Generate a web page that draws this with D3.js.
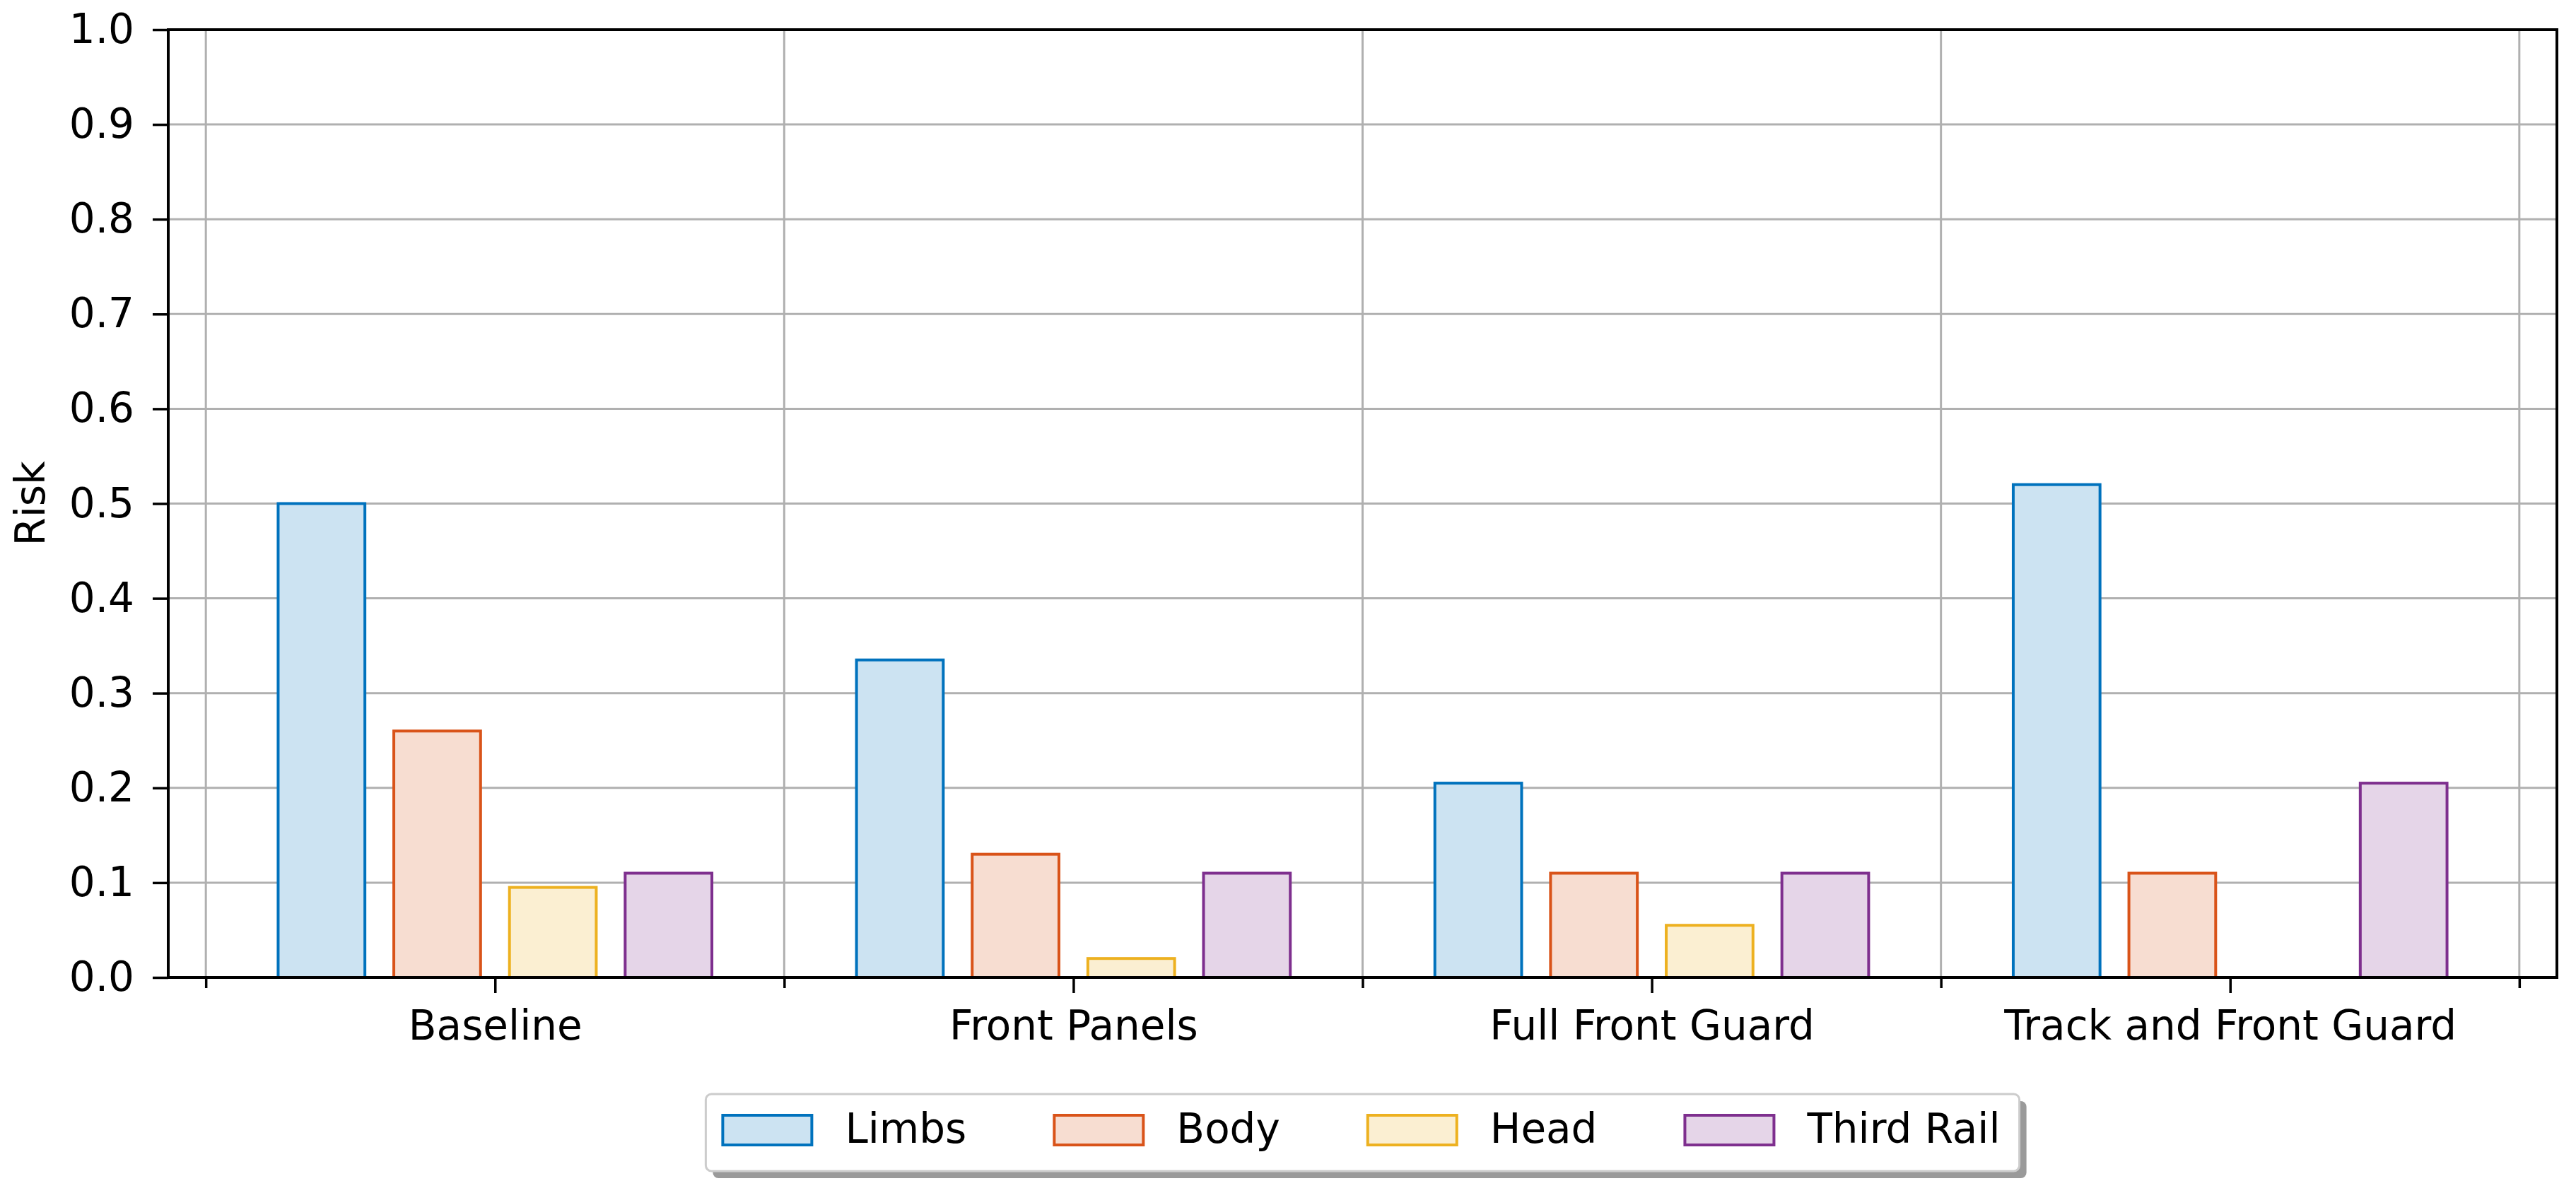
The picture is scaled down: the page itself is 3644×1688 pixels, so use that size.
<!DOCTYPE html>
<html>
<head>
  <meta charset="UTF-8">
  <style>
    body { margin: 0; background: #fff; }
    svg { display: block; }
    text { font-family: "DejaVu Sans", sans-serif; fill: #000; }
    .grid line { stroke: #b0b0b0; stroke-width: 3px; }
    .axis path, .axis line { stroke: #000; }
    .axis text { font-size: 58px; }
  </style>
</head>
<body>
  <svg width="3644" height="1688"></svg>
  <script src="https://d3js.org/d3.v7.min.js"></script>
  <script>
    // data
    const categories = ['Baseline', 'Front Panels', 'Full Front Guard', 'Track and Front Guard'];
    const seriesNames = ['Limbs', 'Body', 'Head', 'Third Rail'];
    const limbs = [0.50, 0.335, 0.205, 0.52];
    const body = [0.26, 0.13, 0.11, 0.11];
    const head = [0.095, 0.02, 0.055, 0.0];
    const thirdRail = [0.11, 0.11, 0.11, 0.205];
    const yTicks = [0.0, 0.1, 0.2, 0.3, 0.4, 0.5, 0.6, 0.7, 0.8, 0.9, 1.0];
    const groupEdges = [-0.5, 0.5, 1.5, 2.5, 3.5];

    const edgeColors = ['#0072BD', '#D95319', '#EDB120', '#7E2F8E'];
    const fillColors = ['#cce3f2', '#f7ddd1', '#fbefd2', '#e5d5e8'];
    const seriesValues = [limbs, body, head, thirdRail];

    const svg = d3.select('svg');
    const pLeft = 238, pRight = 3617, pTop = 42, pBottom = 1383;

    const x = d3.scaleLinear().domain([-0.565, 3.565]).range([pLeft, pRight]);
    const y = d3.scaleLinear().domain([0, 1]).range([pBottom, pTop]);

    const barW = 0.15, barStep = 0.2;

    // grid
    const grid = svg.append('g').attr('class', 'grid');
    grid.selectAll('.h').data(yTicks).enter().append('line')
      .attr('x1', pLeft).attr('x2', pRight)
      .attr('y1', d => y(d)).attr('y2', d => y(d));
    grid.selectAll('.v').data(groupEdges).enter().append('line')
      .attr('x1', d => x(d)).attr('x2', d => x(d))
      .attr('y1', pTop).attr('y2', pBottom);

    // bars
    const rows = [];
    seriesValues.forEach((vals, s) => {
      vals.forEach((v, i) => rows.push({ s, i, v }));
    });
    svg.append('g').selectAll('rect').data(rows).enter().append('rect')
      .attr('x', d => x(d.i + (d.s - 1.5) * barStep - barW / 2))
      .attr('width', d => x(barW) - x(0))
      .attr('y', d => y(d.v))
      .attr('height', d => y(0) - y(d.v))
      .attr('fill', d => fillColors[d.s])
      .attr('stroke', d => edgeColors[d.s])
      .attr('stroke-width', 4);

    // y axis
    const yAxis = svg.append('g').attr('class', 'axis')
      .attr('transform', `translate(${pLeft},0)`)
      .call(d3.axisLeft(y).tickValues(yTicks).tickFormat(d3.format('.1f'))
        .tickSize(22).tickPadding(26));
    yAxis.select('.domain').remove();
    yAxis.selectAll('line').attr('stroke-width', 3.5);

    // x axis: labels at centres, short ticks at group edges
    const xAxis = svg.append('g').attr('class', 'axis')
      .attr('transform', `translate(0,${pBottom})`)
      .call(d3.axisBottom(x).tickValues([0, 1, 2, 3]).tickFormat(i => categories[i])
        .tickSize(22).tickPadding(25));
    xAxis.select('.domain').remove();
    xAxis.selectAll('line').attr('stroke-width', 3.5);

    const xMinor = svg.append('g').attr('class', 'axis')
      .attr('transform', `translate(0,${pBottom})`)
      .call(d3.axisBottom(x).tickValues(groupEdges).tickFormat('').tickSize(15));
    xMinor.select('.domain').remove();
    xMinor.selectAll('line').attr('stroke', '#333').attr('stroke-width', 3.5);

    // frame
    svg.append('rect')
      .attr('x', pLeft).attr('y', pTop)
      .attr('width', pRight - pLeft).attr('height', pBottom - pTop)
      .attr('fill', 'none').attr('stroke', '#000').attr('stroke-width', 4);

    // y label
    svg.append('text')
      .attr('transform', `translate(63,${(pTop + pBottom) / 2}) rotate(-90)`)
      .attr('text-anchor', 'middle')
      .style('font-size', '58px')
      .text('Risk');

    // legend
    const legend = svg.append('g');
    const shadow = legend.append('rect');
    const box = legend.append('rect');
    const patchW = 126, patchH = 42, textGap = 47, colGap = 124, padL = 24, padR = 27;
    const items = legend.selectAll('g.item').data(seriesNames).enter().append('g').attr('class', 'item');
    items.append('rect')
      .attr('width', patchW).attr('height', patchH)
      .attr('y', 1578)
      .attr('fill', (d, s) => fillColors[s])
      .attr('stroke', (d, s) => edgeColors[s])
      .attr('stroke-width', 4);
    const labels = items.append('text')
      .attr('y', 1617)
      .style('font-size', '58px')
      .text(d => d);
    const widths = [];
    labels.each(function () { widths.push(this.getComputedTextLength()); });
    let total = padL + padR;
    widths.forEach((w, s) => { total += patchW + textGap + w + (s < widths.length - 1 ? colGap : 0); });
    const x0 = (pLeft + pRight) / 2 - total / 2;
    let cx = x0 + padL;
    items.each(function (d, s) {
      const g = d3.select(this);
      g.select('rect').attr('x', cx);
      g.select('text').attr('x', cx + patchW + textGap);
      cx += patchW + textGap + widths[s] + colGap;
    });
    shadow.attr('x', x0 + 10).attr('y', 1558).attr('width', total).attr('height', 109)
      .attr('rx', 8).attr('fill', '#9a9a9a');
    box.attr('x', x0).attr('y', 1548).attr('width', total).attr('height', 109)
      .attr('rx', 8).attr('fill', '#fff').attr('stroke', '#cccccc').attr('stroke-width', 3);
  </script>
</body>
</html>
